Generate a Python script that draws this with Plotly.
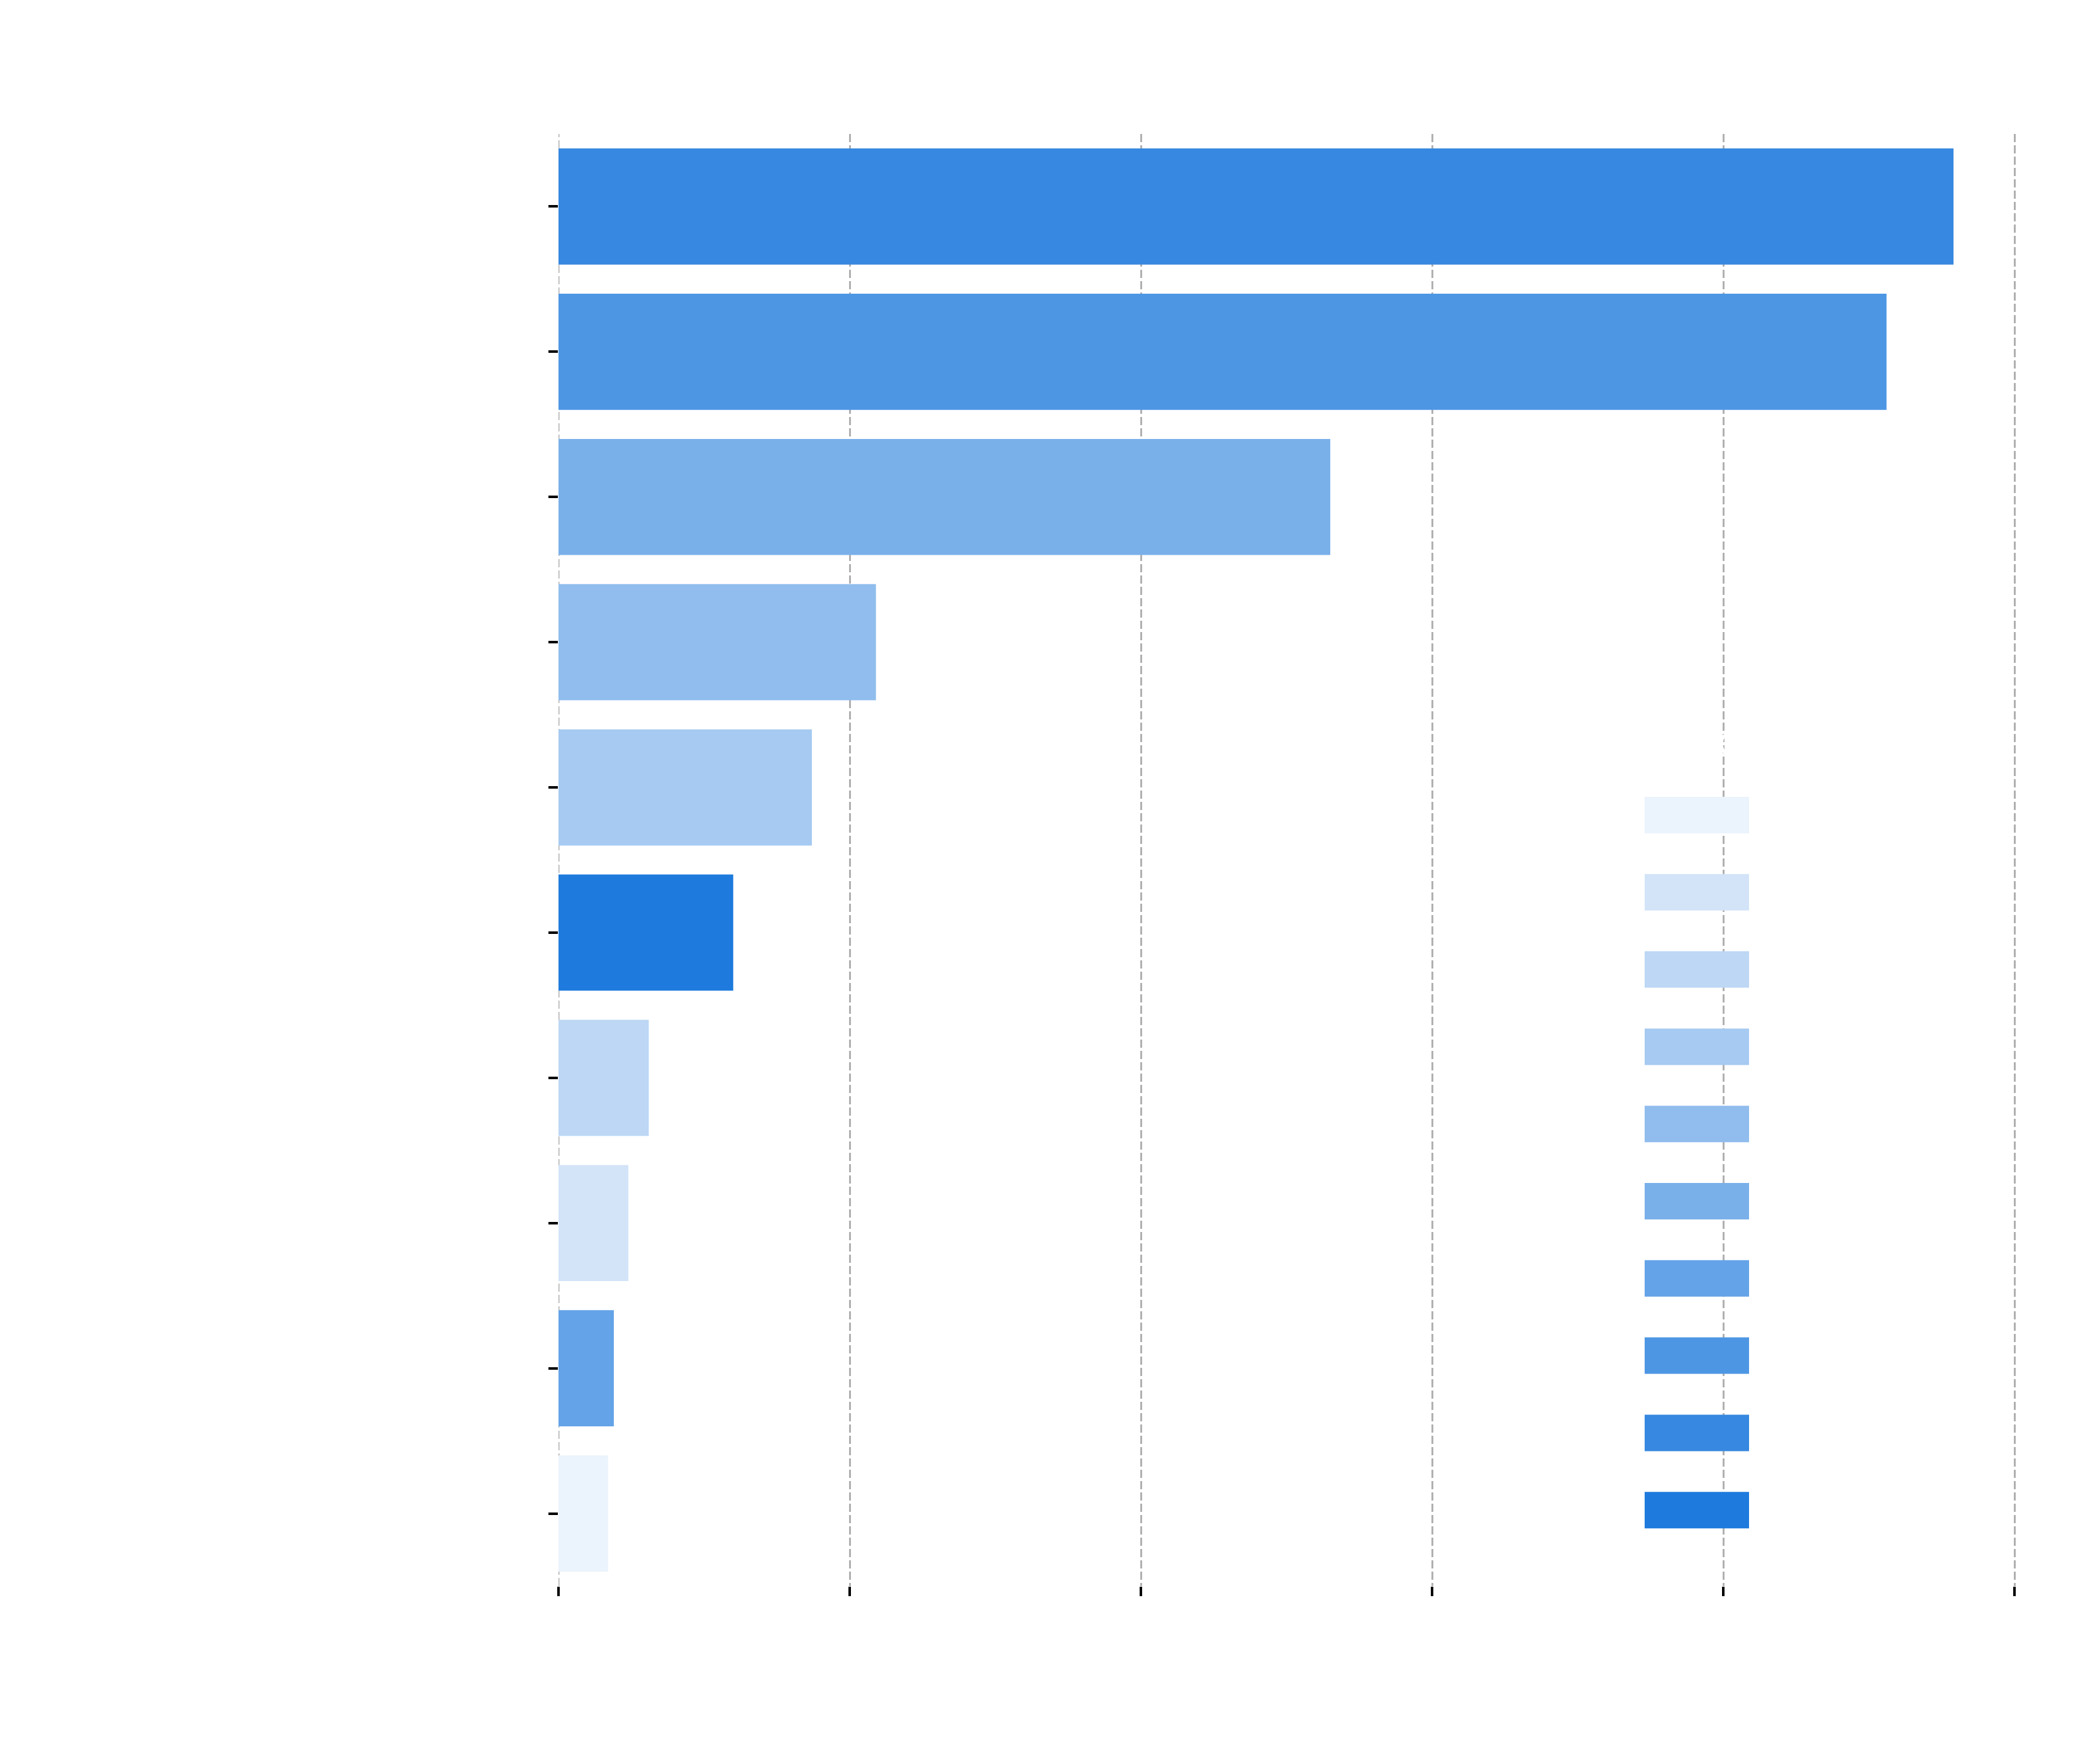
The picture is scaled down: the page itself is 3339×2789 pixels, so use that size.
import plotly.graph_objects as go

# data
authors = ["pugtalk.eth", "Mooe", "cl0kto", "Taiko Labs", "RARI Foundation",
           "The Honey Jar", "Fuel Labs", "zk", "Taiko Ecosystem", "Base Ecosystem"]
mints = [958, 912, 530, 218, 174, 120, 62, 48, 38, 34]
revenue = [4.0191, 0.2514, 0.1453, 0.0602, 0.0477, 50.4, 0.0171, 0.0152, 0.185, 0.0094]
x_ticks = [0, 200, 400, 600, 800, 1000]

# light -> dark blues, assigned by revenue rank
palette = ["#EBF3FC", "#D3E4F8", "#BDD7F4", "#A6CAF1", "#90BDED",
           "#7AB0EA", "#64A3E7", "#4D96E4", "#3788E0", "#1E7BDD"]

OFF = 8  # page body margin
W, H = 3339 - 2 * OFF, 2789 - 2 * OFF
L, R, T, B = 888 - OFF, 3217 - OFF, 213 - OFF, 2522 - OFF  # plot area in px
FONT = "DejaVu Sans"
TXT = "#ffffff"
GRID = "#b0b0b0"

order = sorted(range(len(revenue)), key=lambda i: revenue[i])
rank = {i: r for r, i in enumerate(order)}
bar_colors = [palette[rank[i]] for i in range(len(revenue))]

fig = go.Figure()
fig.add_trace(go.Bar(
    x=mints, y=authors, orientation="h",
    marker=dict(color=bar_colors, line=dict(width=0)),
    width=0.8, showlegend=False,
))


def px_x(p):
    return (p - OFF - L) / (R - L)


def px_y(p):
    return (B - (p - OFF)) / (B - T)


shapes = [dict(type="line", xref="x", yref="paper", x0=0, x1=0, y0=0, y1=1,
               line=dict(color=GRID, width=3, dash="13px,5px"), layer="below")]
annotations = []

# legend drawn by hand so the swatches keep their wide shape
row0, step = 1296, 122.8
for k, i in enumerate(order):
    yc = row0 + k * step
    shapes.append(dict(type="rect", xref="paper", yref="paper",
                       x0=px_x(2615), x1=px_x(2781),
                       y0=px_y(yc + 29), y1=px_y(yc - 29),
                       fillcolor=palette[k], line=dict(width=0), layer="above"))
    annotations.append(dict(text=str(revenue[i]), xref="paper", yref="paper",
                            x=px_x(2850), y=px_y(yc), xanchor="left", yanchor="middle",
                            showarrow=False, font=dict(size=76, color=TXT, family=FONT)))
annotations.append(dict(text="Revenue in ETH", xref="paper", yref="paper",
                        x=px_x(2860), y=px_y(1178), xanchor="center", yanchor="middle",
                        showarrow=False, font=dict(size=62, color=TXT, family=FONT)))
annotations.append(dict(text="Author", xref="paper", yref="paper",
                        x=px_x(62), y=0.5, xanchor="center", yanchor="middle",
                        textangle=-90, showarrow=False,
                        font=dict(size=80, color=TXT, family=FONT)))
annotations.append(dict(text="Mints", xref="paper", yref="paper",
                        x=0.5, y=px_y(2712), xanchor="center", yanchor="middle",
                        showarrow=False, font=dict(size=80, color=TXT, family=FONT)))

fig.update_layout(
    width=W, height=H,
    margin=dict(l=L, r=W - R, t=T, b=H - B, autoexpand=False),
    paper_bgcolor="white", plot_bgcolor="white",
    title=dict(text="10 Authors with the Most Minted Entries",
               x=px_x(2056), xref="paper", xanchor="center",
               y=1 - (72 - OFF) / H, yref="container", yanchor="middle",
               font=dict(size=112, color=TXT, family=FONT)),
    shapes=shapes, annotations=annotations,
    bargap=0.2,
)
fig.update_xaxes(
    range=[0, max(mints) * 1.05], tickvals=x_ticks,
    showgrid=True, gridcolor=GRID, gridwidth=3, griddash="13px,5px",
    zeroline=False, showline=False,
    ticks="outside", ticklen=15, tickwidth=4, tickcolor="black",
    tickfont=dict(size=78, color=TXT, family=FONT),
)
fig.update_yaxes(
    autorange="reversed", showgrid=False, zeroline=False, showline=False,
    ticks="outside", ticklen=15, tickwidth=4, tickcolor="black",
    ticklabelstandoff=8,
    tickfont=dict(size=80, color=TXT, family=FONT),
)

fig.write_html("out.html")
